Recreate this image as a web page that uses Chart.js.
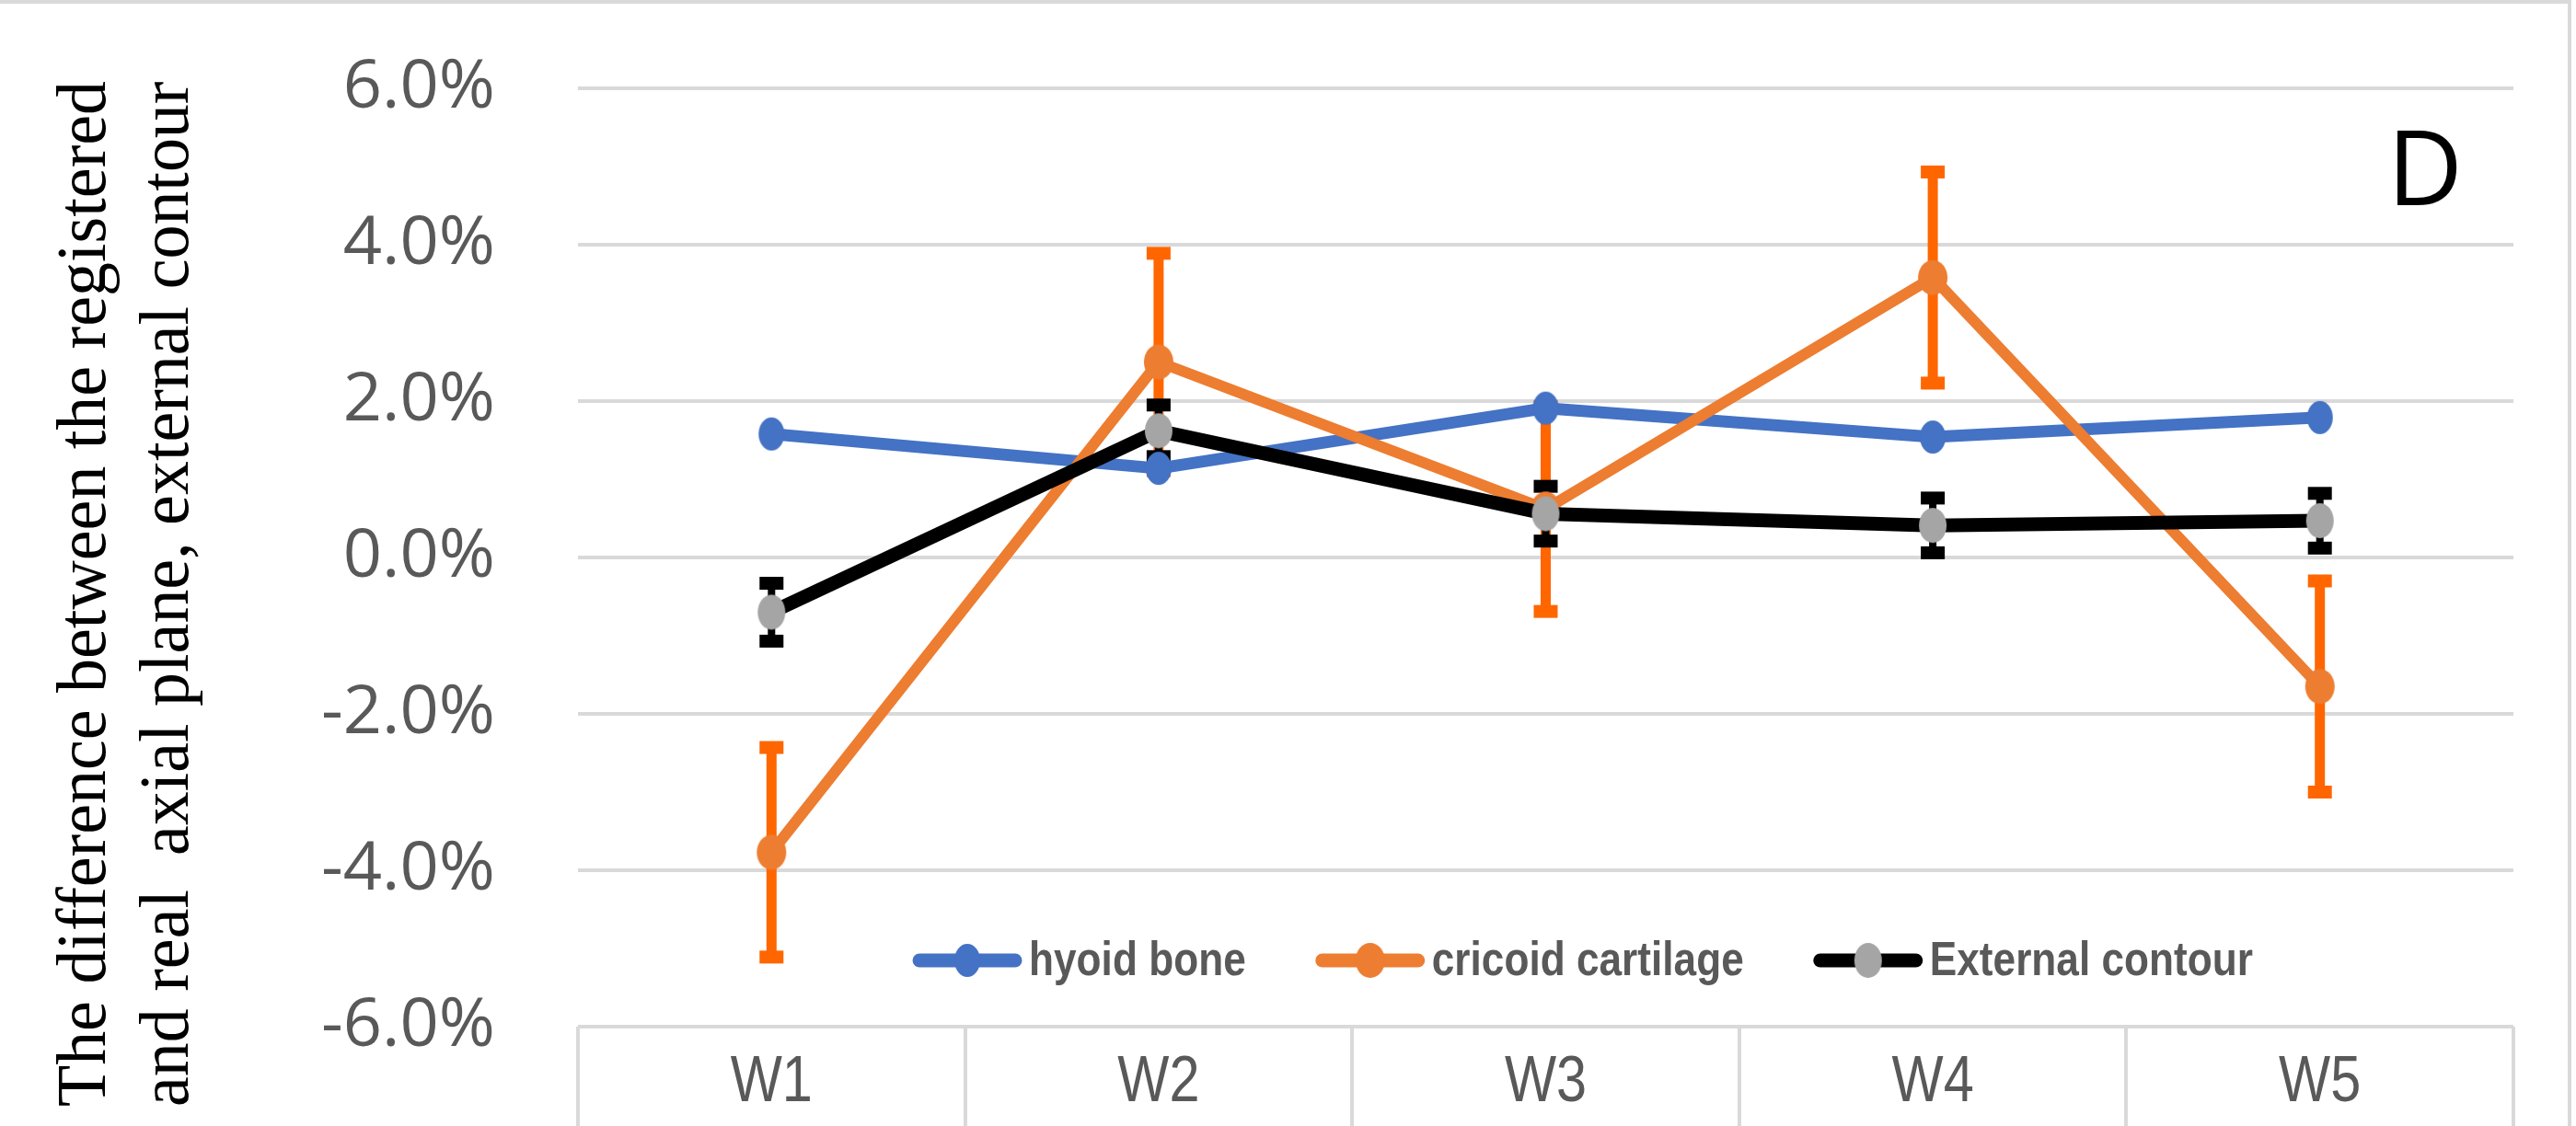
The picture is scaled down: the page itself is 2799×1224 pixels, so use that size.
<!DOCTYPE html>
<html>
<head>
<meta charset="utf-8">
<script src="https://cdn.jsdelivr.net/npm/chart.js@4.4.1/dist/chart.umd.min.js"></script>
<style>
  html, body { margin: 0; padding: 0; background: #ffffff; }
  canvas { display: block; }
</style>
</head>
<body>
<canvas id="chart" width="2799" height="1224" style="width:2799px;height:1224px"></canvas>
<script>
// Weekly registration differences (%), with standard deviations
const weeks = ['W1', 'W2', 'W3', 'W4', 'W5'];
const hyoidBone = [1.58, 1.14, 1.91, 1.54, 1.79];
const cricoidCartilage = [-3.77, 2.50, 0.62, 3.58, -1.65];
const cricoidSD = [1.34, 1.39, 1.31, 1.35, 1.35];
const externalContour = [-0.70, 1.62, 0.56, 0.41, 0.47];
const externalSD = [0.37, 0.33, 0.35, 0.35, 0.35];
const yTicks = [-6, -4, -2, 0, 2, 4, 6];
const seriesNames = ['hyoid bone', 'cricoid cartilage', 'External contour'];
const axisTitle = ['The difference between the registered', 'and real  axial plane, external contour'];
const panelLabel = 'D';

const GRID = '#D9D9D9';
const TEXT = '#595959';
const SANS = "'Liberation Sans', Arial, sans-serif";
const NARROW = 0.85; // horizontal squeeze for the condensed labels

// Slightly tall elliptical markers
function marker(fill, w, h) {
  const c = document.createElement('canvas');
  c.width = w + 2; c.height = h + 2;
  const g = c.getContext('2d');
  g.fillStyle = fill;
  g.beginPath();
  g.ellipse(c.width / 2, c.height / 2, w / 2, h / 2, 0, 0, Math.PI * 2);
  g.fill();
  return c;
}

const blueMarker = marker('#4472C4', 28, 36);
const orangeMarker = marker('#ED7D31', 32, 38);
const greyMarker = marker('#A5A5A5', 30, 38);

// draw text squeezed horizontally around an anchor
function narrowText(ctx, text, x, y, align, squeeze) {
  ctx.save();
  ctx.translate(x, y);
  ctx.scale(squeeze, 1);
  ctx.textAlign = align;
  ctx.fillText(text, 0, 0);
  ctx.restore();
}

// Vertical error bars with square caps, painted beneath the lines
const errorBarPlugin = {
  id: 'errorBars',
  beforeDatasetsDraw(chart) {
    const ctx = chart.ctx;
    const y = chart.scales.y;
    chart.data.datasets.forEach((ds, di) => {
      if (!ds.errorBars) return;
      const meta = chart.getDatasetMeta(di);
      ctx.save();
      ctx.fillStyle = ds.errorColor;
      meta.data.forEach((pt, i) => {
        const v = ds.data[i], e = ds.errorBars[i];
        const yTop = y.getPixelForValue(v + e);
        const yBot = y.getPixelForValue(v - e);
        const lw = ds.errorWidth, cw = 26, ch = 14;
        ctx.fillRect(pt.x - lw / 2, yTop, lw, yBot - yTop);
        ctx.fillRect(pt.x - cw / 2, yTop - ch / 2, cw, ch);
        ctx.fillRect(pt.x - cw / 2, yBot - ch / 2, cw, ch);
      });
      ctx.restore();
    });
  }
};

// Category labels, legend inside the plot, axis title, panel letter and frame
const decorPlugin = {
  id: 'decor',
  afterDraw(chart) {
    const ctx = chart.ctx;
    const area = chart.chartArea;
    const xs = chart.scales.x;
    ctx.save();

    // frame
    ctx.strokeStyle = GRID;
    ctx.lineWidth = 4;
    ctx.beginPath();
    ctx.moveTo(0, 2); ctx.lineTo(2792, 2); ctx.lineTo(2792, 1224);
    ctx.stroke();

    // category labels in a condensed face
    ctx.fillStyle = TEXT;
    ctx.font = '70px ' + SANS;
    ctx.textBaseline = 'middle';
    weeks.forEach((w, i) => {
      narrowText(ctx, w, xs.getPixelForTick(i), area.bottom + 62, 'center', NARROW);
    });

    // legend
    ctx.font = 'bold 52px ' + SANS;
    ctx.textBaseline = 'middle';
    const symW = 120, symGap = 7, itemGap = 75;
    const items = chart.data.datasets.map(ds => ({ ds, w: ctx.measureText(ds.label).width * NARROW }));
    const total = items.reduce((s, it) => s + symW + symGap + it.w, 0) + itemGap * (items.length - 1);
    let x = (area.left + area.right) / 2 + 40 - total / 2;
    const ly = area.bottom - 72;
    items.forEach(it => {
      ctx.strokeStyle = it.ds.borderColor;
      ctx.lineWidth = 15;
      ctx.lineCap = 'round';
      ctx.beginPath();
      ctx.moveTo(x + 8, ly); ctx.lineTo(x + symW - 8, ly);
      ctx.stroke();
      const m = it.ds.pointStyle;
      ctx.drawImage(m, x + symW / 2 - m.width / 2, ly - m.height / 2);
      ctx.fillStyle = TEXT;
      narrowText(ctx, it.ds.label, x + symW + symGap, ly + 2, 'left', NARROW);
      x += symW + symGap + it.w + itemGap;
    });

    // y-axis title, two rotated lines in a serif face
    ctx.fillStyle = '#000000';
    ctx.font = "77px 'Liberation Serif', 'Times New Roman', serif";
    ctx.textBaseline = 'alphabetic';
    ctx.textAlign = 'left';
    const baselines = [114, 204];
    axisTitle.forEach((line, i) => {
      ctx.save();
      ctx.translate(baselines[i], 1203);
      ctx.rotate(-Math.PI / 2);
      ctx.scale(0.96, 1);
      ctx.fillText(line, 0, 0);
      ctx.restore();
    });

    // panel letter
    ctx.font = "113px 'Open Sans', 'Noto Sans', sans-serif";
    ctx.textAlign = 'center';
    ctx.fillText(panelLabel, 2635, 223);

    ctx.restore();
  }
};

new Chart(document.getElementById('chart'), {
  type: 'line',
  data: {
    labels: weeks,
    datasets: [
      {
        label: seriesNames[0], data: hyoidBone,
        borderColor: '#4472C4', backgroundColor: '#4472C4',
        borderWidth: 13, pointStyle: blueMarker, pointRadius: 15,
        order: 3
      },
      {
        label: seriesNames[1], data: cricoidCartilage,
        borderColor: '#ED7D31', backgroundColor: '#ED7D31',
        borderWidth: 12, pointStyle: orangeMarker, pointRadius: 15,
        errorBars: cricoidSD, errorColor: '#FF6600', errorWidth: 11,
        order: 2
      },
      {
        label: seriesNames[2], data: externalContour,
        borderColor: '#000000', backgroundColor: '#A5A5A5',
        borderWidth: 15, pointStyle: greyMarker, pointRadius: 15,
        errorBars: externalSD, errorColor: '#000000', errorWidth: 8,
        order: 1
      }
    ]
  },
  options: {
    responsive: false,
    devicePixelRatio: 1,
    animation: false,
    events: [],
    layout: { padding: { top: 96, right: 68, left: 0, bottom: 0 } },
    elements: {
      line: { tension: 0, borderJoinStyle: 'round', borderCapStyle: 'round', fill: false }
    },
    plugins: {
      legend: { display: false },
      tooltip: { enabled: false },
      title: { display: false }
    },
    scales: {
      x: {
        type: 'category',
        offset: true,
        grid: {
          offset: true, drawOnChartArea: false, drawTicks: true,
          tickLength: 108, color: GRID, lineWidth: 4
        },
        border: { display: false },
        ticks: { display: false },
        afterFit(s) { s.height = 108; s.paddingLeft = 0; s.paddingRight = 0; }
      },
      y: {
        min: -6, max: 6,
        afterBuildTicks(s) { s.ticks = yTicks.map(v => ({ value: v })); },
        grid: { color: GRID, lineWidth: 4, drawTicks: false },
        border: { display: false },
        ticks: {
          color: TEXT, font: { family: "'Open Sans', sans-serif", size: 74 },
          padding: 90,
          callback: v => v.toFixed(1) + '%'
        },
        afterFit(s) { s.width = 628; s.paddingTop = 0; s.paddingBottom = 0; }
      }
    }
  },
  plugins: [errorBarPlugin, decorPlugin]
});
</script>
</body>
</html>
